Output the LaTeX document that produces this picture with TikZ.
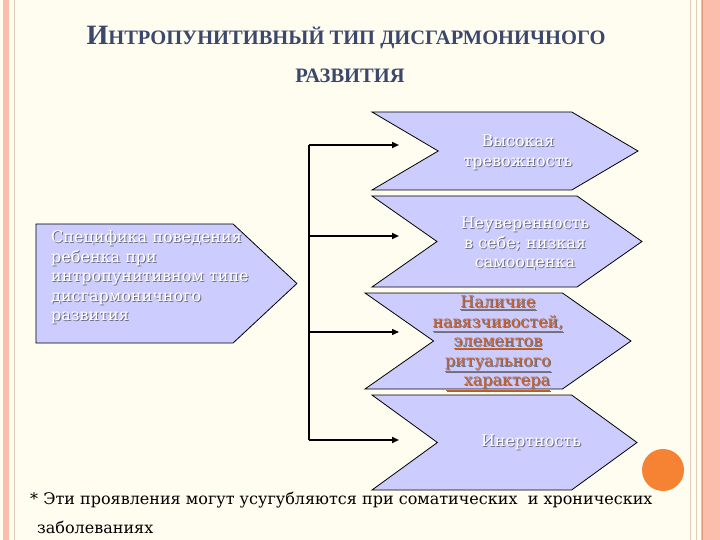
\documentclass[tikz,border=0pt]{standalone}
\usepackage{fontspec}
\setmainfont{DejaVu Serif}
\newfontfamily\titlefont{Liberation Serif}
\usetikzlibrary{positioning,arrows.meta,calc,shapes.symbols}
\definecolor{bgcream}{RGB}{255,253,240}
\definecolor{chfill}{RGB}{204,204,255}
\definecolor{titleblue}{RGB}{59,71,107}
\definecolor{rustorange}{RGB}{196,98,45}
\definecolor{shgray}{RGB}{110,110,125}
\definecolor{stripe}{RGB}{252,190,172}
\definecolor{stripedark}{RGB}{232,148,118}
\definecolor{stripetan}{RGB}{222,205,185}
\definecolor{dotorange}{RGB}{246,131,52}
\newcommand\shd[1]{\leavevmode\rlap{\kern1pt\raisebox{-1pt}{\color{shgray}#1}}#1}
\tikzset{
  chev/.style={signal, signal from=west, signal to=east, draw=black, fill=chfill,
               line width=0.8pt, inner sep=0pt},
  spechead/.style={signal, signal to=east, draw=black, fill=chfill,
               line width=0.8pt, inner sep=0pt},
  chtext/.style={align=center, text=white, inner sep=0pt,
                 font=\fontsize{16}{19.5}\selectfont},
  link/.style={-{Triangle[length=7pt,width=6pt]}, line width=1.8pt},
  titletxt/.style={text=titleblue, inner sep=0pt, font=\titlefont\bfseries}
}
\begin{document}
\begin{tikzpicture}[x=1pt,y=-1pt]
  \fill[bgcream] (0,0) rectangle (720,540);
  \useasboundingbox (0,0) rectangle (720,540);
  % page borders
  \fill[stripe] (3,0) rectangle (9,540);
  \draw[stripetan, line width=0.6pt] (14.5,0) -- (14.5,540);
  \draw[stripetan, line width=1pt] (690,0) -- (690,540);
  \draw[stripetan, line width=1.2pt] (696.5,0) -- (696.5,540);
  \fill[stripe] (701,0) rectangle (720,540);
  \draw[stripedark, line width=1pt] (702,0) -- (702,540);

  % title
  \node[titletxt] (title) at (346,38)
    {{\fontsize{28}{28}\selectfont И}{\fontsize{20.5}{20.5}\selectfont НТРОПУНИТИВНЫЙ ТИП ДИСГАРМОНИЧНОГО}};
  \node[titletxt, font=\titlefont\bfseries\fontsize{20.5}{20.5}\selectfont] (title2) at (350,76) {РАЗВИТИЯ};

  % shapes
  \node[spechead, minimum width=261, minimum height=119, signal pointer angle=86] (spec) at (134.5,283.5) {};
  \node[chev, minimum width=266, minimum height=78, signal pointer angle=61] (c1) at (505,151) {};
  \node[chev, minimum width=270, minimum height=91, signal pointer angle=70] (c2) at (507,241.5) {};
  \node[chev, minimum width=266, minimum height=96, signal pointer angle=70] (c3) at (498,341) {};
  \node[chev, minimum width=265, minimum height=95, signal pointer angle=72] (c4) at (504.5,442.5) {};

  % texts
  \node[chtext, align=left, anchor=west] (tspec) at (51,278)
    {\shd{Специфика поведения}\\\shd{ребенка при}\\\shd{интропунитивном типе}\\\shd{дисгармоничного}\\\shd{развития}};
  \node[chtext] (t1) at (518,153) {\shd{Высокая}\\\shd{тревожность}};
  \node[chtext] (t2) at (525,244) {\shd{Неуверенность}\\\shd{в себе; низкая}\\\shd{самооценка}};
  \node[chtext, text=rustorange] (t3) at (498,344)
    {\shd{\underline{Наличие}}\\\shd{\underline{навязчивостей,}}\\\shd{\underline{элементов}}\\\shd{\underline{ритуального}}\\\shd{\underline{\hphantom{xx}характера}}};
  \node[chtext] (t4) at (531,443) {\shd{Инертность}};

  % connectors
  \coordinate (b1) at (309,145);
  \coordinate (b2) at (309,236);
  \coordinate (b3) at (309,332);
  \coordinate (b4) at (309,440);
  \coordinate (e1) at (399,145);
  \coordinate (e2) at (399,236);
  \coordinate (e3) at (399,332);
  \coordinate (e4) at (399,440);
  \draw[line width=1.8pt] (b1) -- (b4);
  \draw[link] (b1) -- (e1);
  \draw[link] (b2) -- (e2);
  \draw[link, line width=1.3pt] (b3) -- (e3);
  \draw[link] (b4) -- (e4);

  \fill[dotorange] (663,470) circle (21);

  % footnote
  \node[anchor=base west, align=left, inner sep=0pt, font=\fontsize{16}{29}\selectfont] (note) at (30,533)
    {* Эти проявления могут усугубляются при соматических\ \ и хронических\\\hspace*{7pt}заболеваниях};
\end{tikzpicture}
\end{document}
